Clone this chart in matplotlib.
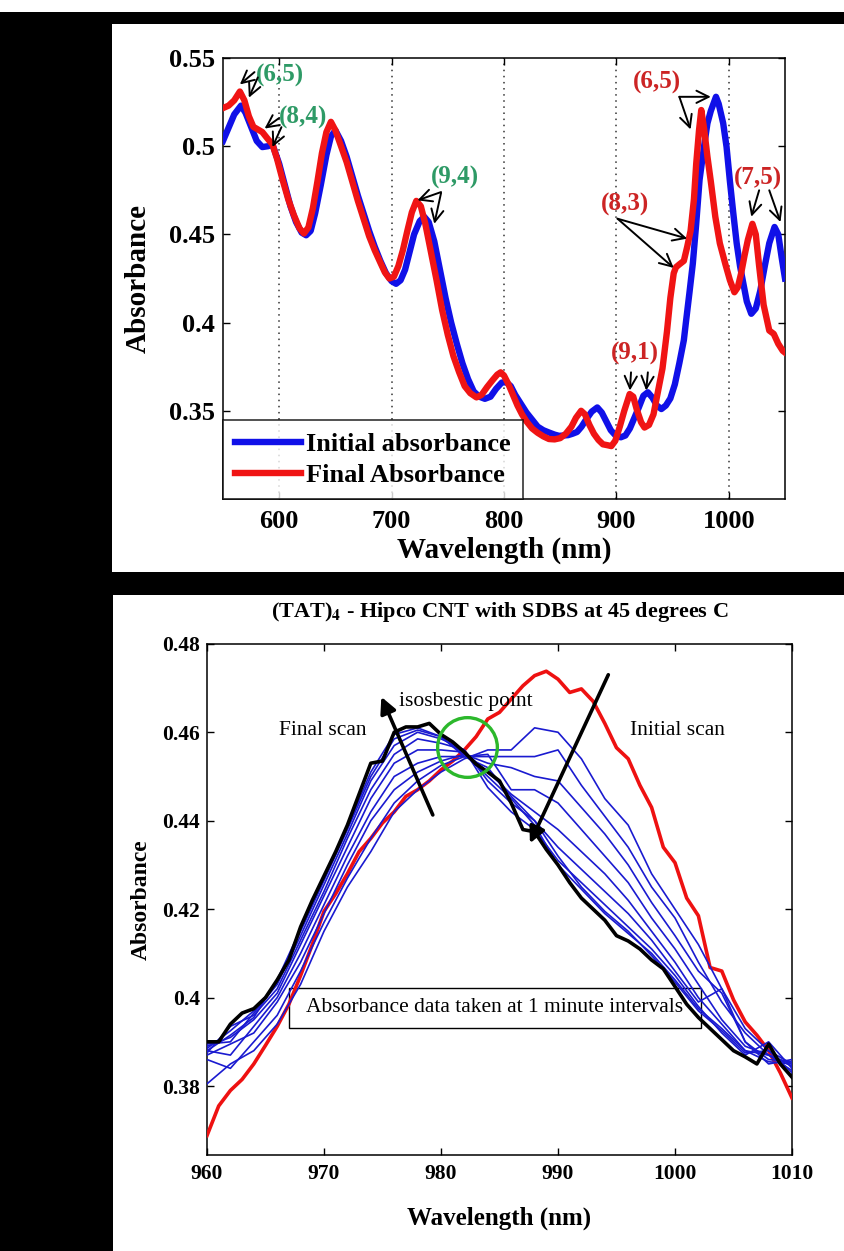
import numpy as np
import matplotlib
matplotlib.use('Agg')
import matplotlib.pyplot as plt
from matplotlib.patches import Rectangle

plt.rcParams['font.family'] = ['Liberation Serif', 'DejaVu Serif']
plt.rcParams['mathtext.fontset'] = 'stix'

W, H = 845, 1251

# ---- top panel: full spectrum, initial vs final ----
wl_init = [550, 556, 560, 566, 570, 575, 580, 585, 590, 594, 600, 605, 610, 615, 620, 624,
           628, 632, 637, 642, 646, 650, 655, 660, 665, 670, 675, 680, 685, 690, 695, 700,
           704, 708, 712, 716, 720, 725, 729, 733, 738, 743, 748, 753, 758, 763, 768, 773,
           778, 783, 788, 793, 798, 802, 806, 810, 815, 820, 825, 830, 835, 840, 845, 849,
           853, 857, 861, 865, 869, 873, 878, 883, 887, 891, 895, 900, 904, 908, 912, 916,
           920, 924, 928, 932, 936, 940, 944, 948, 952, 956, 960, 962, 965, 968, 971, 974,
           978, 981, 984, 988.6, 991, 995, 998, 1001, 1004, 1007, 1010, 1013, 1016, 1020,
           1024, 1028, 1032, 1036, 1040.7, 1044, 1047, 1050]
abs_init = [.503, .512, .518, .523, .519, .511, .503, .4995, .500, .501, .490, .478, .466, .457, .451, .4495,
            .452, .462, .478, .495, .5055, .509, .503, .494, .483, .472, .462, .452, .443, .435, .428, .4235,
            .422, .424, .430, .440, .450, .4575, .460, .457, .446, .430, .414, .400, .388, .377, .368, .361,
            .358, .3568, .358, .3625, .366, .3662, .364, .359, .354, .349, .345, .341, .339, .3377, .3365, .3358,
            .336, .3362, .337, .338, .341, .345, .3495, .3519, .349, .344, .339, .3355, .335, .336, .340, .346,
            .352, .3585, .3605, .3575, .353, .351, .353, .357, .365, .377, .390, .401, .417, .4335, .456, .481,
            .500, .513, .520, .528, .524, .513, .4996, .480, .462, .445, .432, .422, .412, .405,
            .408, .418, .432, .445, .4542, .450, .437, .425]

wl_final = [550, 555, 560, 565, 569, 573, 577, 581, 585, 590, 594, 598, 603, 608, 613, 618,
            622, 626, 630, 634, 638, 642, 646, 650, 655, 660, 665, 670, 675, 680, 685, 690,
            694, 698, 702, 706, 710, 714, 718, 722, 726, 730, 735, 740, 745, 750, 755, 760,
            765, 770, 775.5, 780, 785, 790, 794, 797, 800, 804, 808, 812, 816, 820, 825, 830,
            835, 840, 845, 850, 855, 860, 864, 868.6, 872, 876, 880, 884, 888, 892, 895.5, 899,
            903, 907, 911.8, 915, 918, 922, 925, 929, 933, 937, 941, 945, 948, 951, 953, 956,
            960, 963, 966, 969, 971, 973.5, 975.5, 978, 981, 984, 988, 992, 997, 1001, 1005,
            1008, 1011, 1014, 1017, 1021, 1024, 1027, 1031, 1036, 1040, 1044, 1048, 1050]
abs_final = [.5216, .523, .526, .531, .526, .517, .511, .5095, .508, .504, .501, .493, .481, .470, .461, .4535,
             .4505, .454, .465, .480, .496, .508, .5138, .509, .500, .491, .480, .469, .459, .449, .441, .434,
             .4285, .425, .426, .432, .441, .452, .4625, .469, .466, .456, .440, .424, .407, .393, .381, .372,
             .364, .360, .3576, .359, .3635, .3675, .3705, .3718, .370, .365, .359, .353, .348, .344, .340, .3375,
             .3355, .334, .3338, .3345, .337, .341, .346, .350, .348, .342, .337, .3335, .331, .3305, .330, .333,
             .341, .350, .3595, .358, .351, .3435, .3405, .342, .348, .361, .374, .395, .414, .428, .4314, .433,
             .435, .443, .452, .470, .490, .509, .5205, .510, .494, .480, .460, .445, .433, .424, .4172,
             .420, .428, .438, .447, .456, .450, .432, .410, .3955, .3936, .388, .384, .383]

grid_wl = [600, 700, 800, 900, 1000]
top_yticks = [0.35, 0.4, 0.45, 0.5, 0.55]
top_ylabels = ['0.35', '0.4', '0.45', '0.5', '0.55']

# chirality labels: (text, text position, [(tail, tip), ...], colour)
green_lbl = '#2e9a66'
red_lbl = '#cc2424'
chiral_notes = [
    ('(6,5)', (601, 0.5400), [((578, 0.5420), (565, 0.5350)), ((581, 0.5390), (573, 0.5275))], green_lbl),
    ('(8,4)', (621, 0.5165), [((600, 0.5160), (587, 0.5100)), ((602, 0.5108), (594, 0.4995))], green_lbl),
    ('(9,4)', (756, 0.4824), [((744, 0.4740), (723, 0.4693)), ((744, 0.4735), (738, 0.4560))], green_lbl),
    ('(6,5)', (936, 0.5364), [((956, 0.5280), (984, 0.5280)), ((956, 0.5280), (966, 0.5095))], red_lbl),
    ('(8,3)', (908, 0.4670), [((901, 0.4589), (963, 0.4476)), ((901, 0.4589), (951, 0.4310))], red_lbl),
    ('(7,5)', (1026, 0.4816), [((1027, 0.4750), (1020, 0.4600)), ((1036, 0.4750), (1046, 0.4570))], red_lbl),
    ('(9,1)', (916, 0.3827), [((913, 0.3718), (912, 0.3615)), ((928, 0.3718), (926.5, 0.3615))], red_lbl),
]

# ---- bottom panel: scans every minute at 45 C ----
wl_scan = list(range(960, 1011))
initial_scan = [.3688, .3755, .3790, .3815, .3850, .3892, .3935, .3985, .4050, .4120, .4195, .4235, .4280,
                .4330, .4360, .4395, .4420, .4455, .4470, .4490, .4515, .4535, .4560, .4590, .4630, .4645,
                .4675, .4705, .4728, .4738, .4720, .4690, .4698, .4670, .4620, .4565, .4540, .4480, .4430,
                .4340, .4305, .4225, .4185, .4068, .4060, .3995, .3945, .3915, .3880, .3830, .3773]
final_scan = [.3900, .3900, .3940, .3965, .3975, .4000, .4040, .4085, .4160, .4220, .4275, .4330, .4390,
              .4460, .4530, .4535, .4600, .4612, .4612, .4620, .4595, .4578, .4555, .4528, .4510, .4490,
              .4440, .4380, .4375, .4335, .4300, .4260, .4225, .4200, .4175, .4140, .4128, .4110, .4085,
              .4065, .4025, .3985, .3955, .3930, .3905, .3880, .3866, .3850, .3895, .3850, .3820]

wl_mid = list(range(960, 1011, 2))
mid_scans = [
    [.3805, .3850, .3880, .3940, .4030, .4150, .4250, .4330, .4420, .4470, .4510, .4540, .4560,
     .4560, .4610, .4600, .4540, .4450, .4390, .4280, .4200, .4120, .4020, .3930, .3880, .3830],
    [.3860, .3840, .3900, .3960, .4060, .4170, .4270, .4360, .4440, .4490, .4525, .4545, .4545,
     .4545, .4545, .4560, .4480, .4410, .4340, .4250, .4180, .4080, .3990, .3920, .3870, .3850],
    [.3870, .3895, .3920, .3990, .4080, .4190, .4300, .4400, .4470, .4510, .4535, .4550, .4530,
     .4520, .4500, .4490, .4430, .4370, .4300, .4215, .4140, .4060, .4010, .3900, .3850, .3860],
    [.3880, .3870, .3935, .4000, .4100, .4210, .4320, .4420, .4500, .4530, .4545, .4545, .4550,
     .4470, .4470, .4440, .4380, .4320, .4260, .4180, .4110, .4030, .3950, .3890, .3870, .3845],
    [.3890, .3910, .3950, .4010, .4120, .4230, .4340, .4450, .4530, .4560, .4560, .4555, .4510,
     .4460, .4420, .4380, .4330, .4280, .4220, .4150, .4080, .4000, .3940, .3880, .3855, .3850],
    [.3875, .3935, .3960, .4020, .4130, .4240, .4360, .4470, .4550, .4585, .4575, .4560, .4490,
     .4440, .4400, .4340, .4290, .4240, .4190, .4130, .4060, .3990, .4020, .3900, .3860, .3855],
    [.3895, .3900, .3965, .4030, .4140, .4255, .4370, .4490, .4570, .4600, .4585, .4560, .4475,
     .4420, .4380, .4310, .4260, .4210, .4160, .4110, .4050, .3980, .3920, .3870, .3900, .3840],
    [.3885, .3925, .3970, .4035, .4150, .4265, .4380, .4500, .4585, .4605, .4590, .4550, .4500,
     .4450, .4390, .4300, .4245, .4190, .4145, .4100, .4040, .3975, .3930, .3880, .3870, .3835],
    [.3880, .3915, .3955, .4040, .4155, .4270, .4385, .4510, .4595, .4610, .4590, .4545, .4520,
     .4455, .4400, .4320, .4250, .4195, .4150, .4095, .4035, .3970, .3925, .3875, .3880, .3850],
]

bot_xticks = [960, 970, 980, 990, 1000, 1010]
bot_yticks = [0.38, 0.40, 0.42, 0.44, 0.46, 0.48]
bot_ylabels = ['0.38', '0.4', '0.42', '0.44', '0.46', '0.48']
isosbestic = (982.2, 0.4567)


def px_rect(x0, y0, x1, y1):
    return [x0 / W, 1 - y1 / H, (x1 - x0) / W, (y1 - y0) / H]


fig = plt.figure(figsize=(W / 100, H / 100), dpi=100, facecolor='black')

# white panels on the black page, kept behind the axes
for r in [(0, 0, 845, 12), (112, 24, 845, 572), (113, 595, 845, 1251)]:
    x, y, w, h = px_rect(*r)
    fig.patches.append(Rectangle((x, y), w, h, transform=fig.transFigure,
                                 facecolor='white', edgecolor='none', zorder=-10))

# ---------------- top ----------------
ax1 = fig.add_axes(px_rect(223, 58, 785, 499))
ax1.plot(wl_init, abs_init, color='#1010e8', lw=4.6, solid_joinstyle='round',
         label='Initial absorbance', zorder=3)
ax1.plot(wl_final, abs_final, color='#f01414', lw=4.6, solid_joinstyle='round',
         label='Final Absorbance', zorder=4)
for g in grid_wl:
    ax1.axvline(g, color='#333333', lw=1.1, ls=(0, (1, 3)), zorder=1)
ax1.set_xlim(550, 1050)
ax1.set_ylim(0.3, 0.55)
ax1.set_xticks(grid_wl)
ax1.set_yticks(top_yticks)
ax1.set_yticklabels(top_ylabels)
ax1.tick_params(direction='in', top=True, right=True, length=5, width=1,
                labelsize=19, pad=8)
ax1.tick_params(axis='y', pad=6)
for lab in ax1.get_xticklabels() + ax1.get_yticklabels():
    lab.set_fontweight('bold')
ax1.set_xlabel('Wavelength (nm)', fontsize=21, fontweight='bold', va='center')
ax1.xaxis.set_label_coords(0.5, -0.116)
ax1.set_ylabel('Absorbance', fontsize=21, fontweight='bold', va='center')
ax1.yaxis.set_label_coords(-0.151, 0.5)

for txt, pos, arrows, col in chiral_notes:
    ax1.text(pos[0], pos[1], txt, color=col, fontsize=18, fontweight='bold',
             ha='center', va='center', zorder=6)
    for tail, tip in arrows:
        ax1.annotate('', xy=tip, xytext=tail, zorder=6,
                     arrowprops=dict(arrowstyle='->', color='black', lw=1.4,
                                     mutation_scale=22, shrinkA=0, shrinkB=0))

leg = ax1.legend(loc='lower left', borderaxespad=0, frameon=True,
                 fancybox=False, handlelength=2.5, handletextpad=0.2,
                 labelspacing=0.3, borderpad=0.45,
                 prop={'weight': 'bold', 'size': 19})
leg.get_frame().set_edgecolor('black')
leg.get_frame().set_linewidth(1.2)
leg.set_zorder(10)

# ---------------- bottom ----------------
ax2 = fig.add_axes(px_rect(207, 643.8, 792, 1154.6))
ax2.plot(wl_scan, initial_scan, color='#ee1111', lw=2.6, zorder=3)
for scan in mid_scans:
    ax2.plot(wl_mid, scan, color='#1a1ad0', lw=1.2, zorder=4)
ax2.plot(wl_scan, final_scan, color='black', lw=2.6, zorder=5)
ax2.plot([isosbestic[0]], [isosbestic[1]], marker='o', ms=43, mfc='none',
         mec='#2cb82c', mew=2.4, zorder=6)

ax2.annotate('', xy=(974.9, 0.4680), xytext=(979.3, 0.4413), zorder=7,
             arrowprops=dict(arrowstyle='-|>', color='black', lw=2.6,
                             mutation_scale=24, shrinkA=0, shrinkB=0))
ax2.annotate('', xy=(987.6, 0.4349), xytext=(994.3, 0.4730), zorder=7,
             arrowprops=dict(arrowstyle='-|>', color='black', lw=2.6,
                             mutation_scale=24, shrinkA=0, shrinkB=0))
ax2.text(969.9, 0.4605, 'Final scan', fontsize=15.5, ha='center', va='center', zorder=8)
ax2.text(976.4, 0.4669, 'isosbestic point', fontsize=15.5, ha='left', va='center', zorder=8)
ax2.text(1000.2, 0.4605, 'Initial scan', fontsize=15.5, ha='center', va='center', zorder=8)

ax2.add_patch(Rectangle((967.0, 0.3932), 35.2, 0.0089, facecolor='white',
                        edgecolor='black', lw=1.0, zorder=2))
ax2.text(984.6, 0.39765, 'Absorbance data taken at 1 minute intervals',
         fontsize=15.5, ha='center', va='center', zorder=2.5)

ax2.set_xlim(960, 1010)
ax2.set_ylim(0.3645, 0.48)
ax2.set_xticks(bot_xticks)
ax2.set_yticks(bot_yticks)
ax2.set_yticklabels(bot_ylabels)
ax2.tick_params(direction='in', top=True, right=True, length=5, width=1,
                labelsize=15.5, pad=7)
ax2.tick_params(axis='y', pad=5)
for lab in ax2.get_xticklabels() + ax2.get_yticklabels():
    lab.set_fontweight('bold')
ax2.set_xlabel('Wavelength (nm)', fontsize=18, fontweight='bold', va='center')
ax2.xaxis.set_label_coords(0.5, -0.124)
ax2.set_ylabel('Absorbance', fontsize=17, fontweight='bold', va='center')
ax2.yaxis.set_label_coords(-0.113, 0.5)
ax2.text(0.5, 1.062, r'(TAT)$_\mathbf{4}$ - Hipco CNT with SDBS at 45 degrees C',
         transform=ax2.transAxes, ha='center', va='center', fontsize=16, fontweight='bold')

for ax in (ax1, ax2):
    for sp in ax.spines.values():
        sp.set_linewidth(1.1)

fig.savefig('out.png', dpi=100, facecolor=fig.get_facecolor())
